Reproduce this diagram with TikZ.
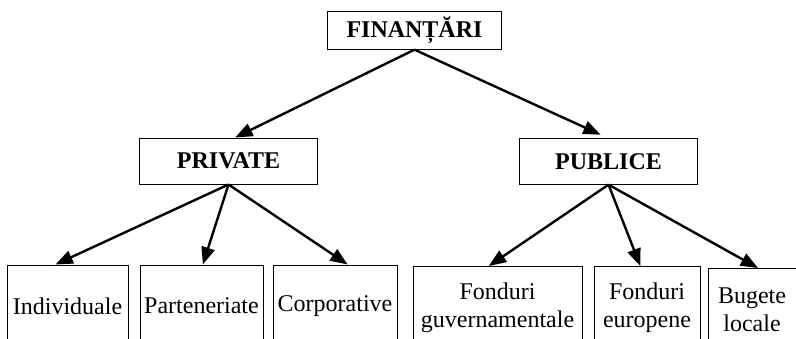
\documentclass[tikz,border=0pt]{standalone}
\usepackage{fontspec}
\setmainfont{Liberation Serif}
\usetikzlibrary{arrows.meta}

\tikzset{
  box/.style={draw, line width=0.75pt, inner sep=1pt, align=center,
    font=\fontsize{18}{21}\selectfont},
  headbox/.style={box, font=\fontsize{18}{21}\selectfont\bfseries},
  leafbox/.style={box, minimum height=61.5pt},
  link/.style={line width=1.8pt, -{Triangle[length=13pt,width=10pt]}},
}

\begin{document}
\begin{tikzpicture}[x=0.75pt,y=-0.75pt]
    \clip (0,0) rectangle (796,339);
    % top and middle level
    \node[headbox, minimum width=131pt, minimum height=28pt] (fin) at (414.5,30.5) {FINANȚĂRI};
    \node[headbox, minimum width=133pt, minimum height=34.5pt] (pri) at (228.5,161) {PRIVATE};
    \node[headbox, minimum width=133pt, minimum height=34pt] (pub) at (608.5,161.5) {PUBLICE};
    % bottom level
    \node[leafbox, minimum width=90.75pt] (ind) at (67.5,306) {Individuale};
    \node[leafbox, minimum width=92.25pt] (par) at (201.5,306) {Parteneriate};
    \node[leafbox, minimum width=93pt] (cor) at (335,306) {Corporative};
    \node[leafbox, minimum width=126.75pt] (guv) at (497.5,307.5) {Fonduri\\guvernamentale};
    \node[leafbox, minimum width=79.5pt] (eur) at (647,307.5) {Fonduri\\europene};
    \node[leafbox, minimum width=66pt] (loc) at (752,309.5) {Bugete\\locale};
    % arrows
    \draw[link] (fin.south) -- ([xshift=5pt]pri.north);
    \draw[link, shorten >=6.5pt] (fin.south) -- (pub.north);
    \draw[link] (pri.south) -- ([xshift=-9pt]ind.north);
    \draw[link] (pri.south) -- ([xshift=1pt]par.north);
    \draw[link] (pri.south) -- ([xshift=9.5pt]cor.north);
    \draw[link] (pub.south) -- ([xshift=-6.5pt]guv.north);
    \draw[link] (pub.south) -- ([xshift=-5pt]eur.north);
    \draw[link] (pub.south) -- ([xshift=4.5pt]loc.north);
\end{tikzpicture}
\end{document}
